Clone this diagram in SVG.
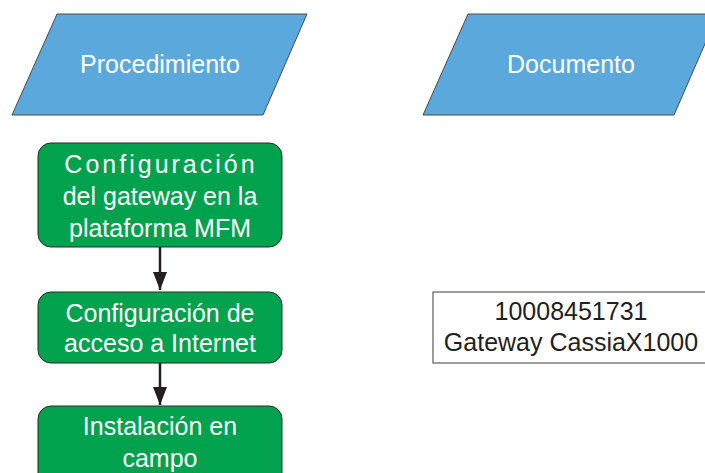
<svg xmlns="http://www.w3.org/2000/svg" width="705" height="473" viewBox="0 0 705 473">
<defs>
<style>
.para{fill:#5BA8DC;stroke:#4a4a4a;stroke-width:1}
.proc{fill:#00A24D;stroke:#2b2b2b;stroke-width:1}
.doc{fill:#ffffff;stroke:#3a3a3a;stroke-width:1}
.lw{font-family:"Liberation Sans",Arial,sans-serif;font-size:25px;fill:#ffffff;text-anchor:middle}
.lb{font-family:"Liberation Sans",Arial,sans-serif;font-size:25px;fill:#231F20;text-anchor:middle}
.conn{stroke:#231F20;stroke-width:2.5;fill:none}
</style>
<marker id="arr" markerUnits="userSpaceOnUse" markerWidth="18" markerHeight="14" refX="18" refY="7" orient="auto" viewBox="0 0 18 14">
<path d="M0,0 L18,7 L0,14 Z" fill="#231F20"/>
</marker>
</defs>
<rect width="705" height="473" fill="#ffffff"/>
<g id="header-procedimiento">
<polygon class="para" points="57,14 307,14 263,115 12,115"/>
<text class="lw" x="160" y="73">Procedimiento</text>
</g>
<g id="header-documento">
<polygon class="para" points="468,14 718,14 674,115 423,115"/>
<text class="lw" x="571" y="73">Documento</text>
</g>
<g id="node-config-gateway">
<rect class="proc" x="38" y="143" width="244" height="104" rx="13" ry="13"/>
<text class="lw" x="161" y="173" letter-spacing="3">Configuración</text>
<text class="lw" x="160" y="205">del gateway en la</text>
<text class="lw" x="160" y="237">plataforma MFM</text>
</g>
<g id="node-config-internet">
<rect class="proc" x="38" y="292" width="244" height="71" rx="13" ry="13"/>
<text class="lw" x="160" y="322">Configuración de</text>
<text class="lw" x="160" y="352">acceso a Internet</text>
</g>
<g id="node-instalacion">
<rect class="proc" x="38" y="406" width="244" height="80" rx="13" ry="13"/>
<text class="lw" x="160" y="435">Instalación en</text>
<text class="lw" x="160" y="467">campo</text>
</g>
<g id="doc-gateway">
<rect class="doc" x="433" y="292" width="290" height="71"/>
<text class="lb" x="571" y="320">10008451731</text>
<text class="lb" x="571" y="351">Gateway CassiaX1000</text>
</g>
<g id="connectors">
<line class="conn" x1="160" y1="247" x2="160" y2="290" marker-end="url(#arr)"/>
<line class="conn" x1="160" y1="363" x2="160" y2="405" marker-end="url(#arr)"/>
</g>
</svg>
